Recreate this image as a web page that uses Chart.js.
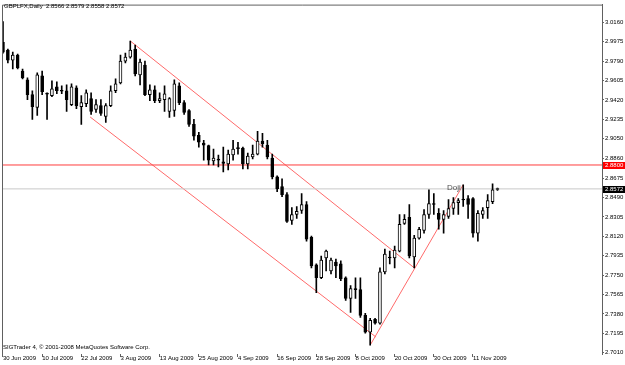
<!DOCTYPE html>
<html>
<head>
<meta charset="utf-8">
<script src="https://cdn.jsdelivr.net/npm/chart.js@4"></script>
<style>
body { margin: 0; background: #fff; }
canvas { display: block; }
</style>
</head>
<body>
<canvas id="myChart" width="625" height="365"></canvas>
<script>
const symbolTitle = 'GBPLFX,Daily  2.8566 2.8579 2.8558 2.8572';
const copyright = 'SIGTrader 4, \u00a9 2001-2008 MetaQuotes Software Corp.';

// one bar per trading day, 30 Jun 2009 .. 18 Nov 2009
const opens = [2.9971, 2.9895, 2.9801, 2.9848, 2.9697, 2.9612, 2.9471, 2.9348, 2.9650, 2.9480,
    2.9461, 2.9546, 2.9510, 2.9508, 2.9376, 2.9537, 2.9357, 2.9386, 2.9433, 2.9329,
    2.9367, 2.9263, 2.9367, 2.9508, 2.9584, 2.9791, 2.9829, 2.9905, 2.9659, 2.9754,
    2.9471, 2.9518, 2.9414, 2.9423, 2.9310, 2.9320, 2.9556, 2.9395, 2.9320, 2.9187,
    2.9083, 2.9008, 2.8984, 2.8838, 2.8857, 2.8829, 2.8810, 2.8895, 2.8961, 2.8961,
    2.8810, 2.8876, 2.8904, 2.9027, 2.8989, 2.8866, 2.8687, 2.8593, 2.8517, 2.8272,
    2.8328, 2.8366, 2.8423, 2.8111, 2.7847, 2.7724, 2.7913, 2.7790, 2.7875, 2.7856,
    2.7724, 2.7526, 2.7620, 2.7611, 2.7365, 2.7205, 2.7328, 2.7290, 2.7781, 2.7922,
    2.7913, 2.7979, 2.8243, 2.8300, 2.7922, 2.8102, 2.8177, 2.8328, 2.8432, 2.8338,
    2.8281, 2.8309, 2.8385, 2.8441, 2.8470, 2.8479, 2.8479, 2.8149, 2.8328, 2.8394,
    2.8451, 2.8566];
const highs = [3.0169, 2.9905, 2.9876, 2.9858, 2.9716, 2.9631, 2.9508, 2.9678, 2.9697, 2.9489,
    2.9603, 2.9593, 2.9556, 2.9565, 2.9574, 2.9556, 2.9461, 2.9518, 2.9489, 2.9423,
    2.9423, 2.9386, 2.9556, 2.9622, 2.9848, 2.9867, 2.9983, 2.9943, 2.9810, 2.9791,
    2.9565, 2.9556, 2.9489, 2.9556, 2.9442, 2.9612, 2.9584, 2.9414, 2.9329, 2.9235,
    2.9112, 2.9036, 2.8989, 2.8951, 2.8895, 2.8970, 2.8942, 2.9036, 2.9017, 2.8970,
    2.8914, 2.8989, 2.9121, 2.9102, 2.9036, 2.8904, 2.8696, 2.8668, 2.8536, 2.8394,
    2.8404, 2.8527, 2.8451, 2.8121, 2.7856, 2.7932, 2.7988, 2.7913, 2.7903, 2.7885,
    2.7734, 2.7649, 2.7724, 2.7724, 2.7384, 2.7337, 2.7337, 2.7819, 2.7998, 2.7979,
    2.8026, 2.8328, 2.8328, 2.8423, 2.8130, 2.8206, 2.8375, 2.8564, 2.8527, 2.8385,
    2.8366, 2.8470, 2.8489, 2.8479, 2.8611, 2.8508, 2.8489, 2.8366, 2.8394, 2.8517,
    2.8621, 2.8579];
const lows = [2.9867, 2.9773, 2.9716, 2.9716, 2.9622, 2.9423, 2.9235, 2.9272, 2.9471, 2.9235,
    2.9452, 2.9480, 2.9480, 2.9310, 2.9367, 2.9338, 2.9187, 2.9357, 2.9282, 2.9301,
    2.9272, 2.9206, 2.9357, 2.9489, 2.9574, 2.9773, 2.9820, 2.9650, 2.9565, 2.9461,
    2.9414, 2.9395, 2.9395, 2.9310, 2.9253, 2.9263, 2.9376, 2.9282, 2.9168, 2.9036,
    2.8970, 2.8847, 2.8800, 2.8800, 2.8781, 2.8734, 2.8753, 2.8847, 2.8904, 2.8763,
    2.8763, 2.8857, 2.8895, 2.8970, 2.8857, 2.8668, 2.8546, 2.8498, 2.8253, 2.8234,
    2.8291, 2.8338, 2.8073, 2.7819, 2.7583, 2.7715, 2.7790, 2.7762, 2.7724, 2.7696,
    2.7507, 2.7394, 2.7526, 2.7347, 2.7196, 2.7082, 2.7281, 2.7281, 2.7762, 2.7856,
    2.7819, 2.7970, 2.8234, 2.7913, 2.7819, 2.8092, 2.8149, 2.8291, 2.8328, 2.8187,
    2.8149, 2.8291, 2.8328, 2.8328, 2.8404, 2.8291, 2.8111, 2.8073, 2.8291, 2.8291,
    2.8432, 2.8558];
const closes = [2.9876, 2.9801, 2.9848, 2.9725, 2.9631, 2.9471, 2.9357, 2.9659, 2.9499, 2.9476,
    2.9527, 2.9508, 2.9503, 2.9423, 2.9546, 2.9367, 2.9395, 2.9489, 2.9310, 2.9376,
    2.9291, 2.9367, 2.9508, 2.9574, 2.9791, 2.9829, 2.9895, 2.9669, 2.9782, 2.9471,
    2.9518, 2.9414, 2.9433, 2.9480, 2.9433, 2.9574, 2.9395, 2.9301, 2.9187, 2.9074,
    2.9017, 2.8989, 2.8847, 2.8866, 2.8847, 2.8815, 2.8904, 2.8951, 2.8956, 2.8810,
    2.8885, 2.8904, 2.9027, 2.9003, 2.8876, 2.8687, 2.8574, 2.8517, 2.8262, 2.8328,
    2.8357, 2.8423, 2.8092, 2.7837, 2.7724, 2.7894, 2.7979, 2.7894, 2.7837, 2.7715,
    2.7526, 2.7620, 2.7611, 2.7365, 2.7205, 2.7318, 2.7290, 2.7781, 2.7951, 2.7913,
    2.7988, 2.8234, 2.8281, 2.7932, 2.8102, 2.8187, 2.8328, 2.8432, 2.8423, 2.8281,
    2.8328, 2.8385, 2.8441, 2.8460, 2.8466, 2.8423, 2.8149, 2.8338, 2.8366, 2.8460,
    2.8564, 2.8572];

const dateTickIndex = [0, 8, 16, 24, 32, 40, 48, 56, 64, 72, 80, 88, 96];
const dateTickLabels = ['30 Jun 2009', '10 Jul 2009', '22 Jul 2009', '3 Aug 2009', '13 Aug 2009',
    '25 Aug 2009', '4 Sep 2009', '16 Sep 2009', '28 Sep 2009', '8 Oct 2009', '20 Oct 2009',
    '30 Oct 2009', '11 Nov 2009'];

const priceTickLabels = ['3.0160', '2.9975', '2.9790', '2.9605', '2.9420', '2.9235', '2.9050', '2.8860',
    '2.8675', '2.8490', '2.8305', '2.8120', '2.7935', '2.7750', '2.7565', '2.7380', '2.7195', '2.7010'];

const resistanceLevel = 2.8800;
const bidLevel = 2.8572;

// hand drawn objects, in (bar index, price)
const channelTop = [{x: 26, y: 2.9983}, {x: 84, y: 2.7819}];
const channelBottom = [{x: 17.8, y: 2.9258}, {x: 76.2, y: 2.7158}];
const risingLine = [{x: 75, y: 2.7082}, {x: 94, y: 2.8611}];
const dojiNote = {x: 90.7, y: 2.8583, text: 'Doji'};

const xMin = -0.2, xMax = 122.35;
const yMin = 2.6997, yMax = 3.0330;

Chart.defaults.font.family = '"Liberation Sans", Arial, sans-serif';
Chart.defaults.font.size = 6;
Chart.defaults.color = '#000';

const wickData = highs.map((h, i) => ({x: i, y: [lows[i], h]}));
const bodyData = opens.map((o, i) => ({x: i, y: [Math.min(o, closes[i]), Math.max(o, closes[i])]}));
const bodyColors = opens.map((o, i) => closes[i] >= o ? '#ffffff' : '#000000');

function priceTag(chart, value, fill, text) {
    const {ctx, chartArea, scales} = chart;
    const y = Math.round(scales.y.getPixelForValue(value));
    ctx.fillStyle = fill;
    ctx.fillRect(chartArea.right + 1, y - 3, 625 - chartArea.right - 1, 7);
    ctx.fillStyle = '#fff';
    ctx.textBaseline = 'middle';
    ctx.textAlign = 'left';
    ctx.fillText(text, chartArea.right + 3, y + 0.5);
}

const overlay = {
    id: 'overlay',
    afterDraw(chart) {
        const {ctx, chartArea, scales} = chart;
        ctx.save();
        ctx.strokeStyle = '#606060';
        ctx.lineWidth = 1;
        ctx.beginPath();
        ctx.moveTo(chartArea.left + 0.5, chartArea.bottom);
        ctx.lineTo(chartArea.left + 0.5, chartArea.top + 0.5);
        ctx.lineTo(chartArea.right, chartArea.top + 0.5);
        ctx.stroke();

        ctx.font = '6px "Liberation Sans", Arial, sans-serif';
        ctx.fillStyle = '#000';
        ctx.textBaseline = 'middle';
        ctx.fillText(symbolTitle, 4, 6.5);
        ctx.fillText(copyright, 3, 347);

        priceTag(chart, resistanceLevel, '#ff0000', resistanceLevel.toFixed(4));
        priceTag(chart, bidLevel, '#000000', bidLevel.toFixed(4));

        ctx.font = '8px "Liberation Sans", Arial, sans-serif';
        ctx.fillStyle = '#505050';
        ctx.textBaseline = 'middle';
        ctx.fillText(dojiNote.text, scales.x.getPixelForValue(dojiNote.x), scales.y.getPixelForValue(dojiNote.y));
        ctx.restore();
    }
};

const lineSet = (data, color) => ({
    type: 'line',
    data: data,
    borderColor: color,
    borderWidth: 1,
    pointRadius: 0,
    fill: false,
    order: 3
});

const ctx = document.getElementById('myChart').getContext('2d');
new Chart(ctx, {
    type: 'bar',
    data: {
        datasets: [{
            data: bodyData,
            backgroundColor: bodyColors,
            borderColor: '#000',
            borderWidth: 1,
            borderSkipped: false,
            barThickness: 3,
            minBarLength: 1,
            grouped: false,
            order: 0
        }, {
            data: wickData,
            backgroundColor: '#000',
            borderWidth: 0,
            barThickness: 1,
            grouped: false,
            order: 1
        },
        lineSet([{x: xMin, y: bidLevel}, {x: xMax, y: bidLevel}], '#c8c8c8'),
        lineSet([{x: xMin, y: resistanceLevel}, {x: xMax, y: resistanceLevel}], '#ff3c3c'),
        lineSet(channelTop, '#ff6a6a'),
        lineSet(channelBottom, '#ff6a6a'),
        lineSet(risingLine, '#ff6a6a')]
    },
    options: {
        responsive: false,
        animation: false,
        layout: {padding: {left: 2, top: 1, right: 0, bottom: 0}},
        plugins: {legend: {display: false}, tooltip: {enabled: false}},
        scales: {
            x: {
                type: 'linear',
                min: xMin,
                max: xMax,
                offset: false,
                afterBuildTicks: scale => { scale.ticks = dateTickIndex.map(v => ({value: v})); },
                afterFit: scale => { scale.height = 11; },
                ticks: {
                    autoSkip: false,
                    maxRotation: 0,
                    minRotation: 0,
                    align: 'start',
                    padding: -2,
                    callback: (value, index) => dateTickLabels[index]
                },
                grid: {drawOnChartArea: false, offset: false, tickLength: 3, color: '#606060'},
                border: {display: false}
            },
            y: {
                type: 'linear',
                position: 'right',
                min: yMin,
                max: yMax,
                afterBuildTicks: scale => { scale.ticks = priceTickLabels.map(t => ({value: parseFloat(t)})); },
                afterFit: scale => { scale.width = 23; },
                ticks: {
                    autoSkip: false,
                    padding: 1,
                    callback: (value, index) => priceTickLabels[index]
                },
                grid: {drawOnChartArea: false, tickLength: 2, color: '#606060'},
                border: {display: true, color: '#606060'}
            }
        }
    },
    plugins: [overlay]
});
</script>
</body>
</html>
